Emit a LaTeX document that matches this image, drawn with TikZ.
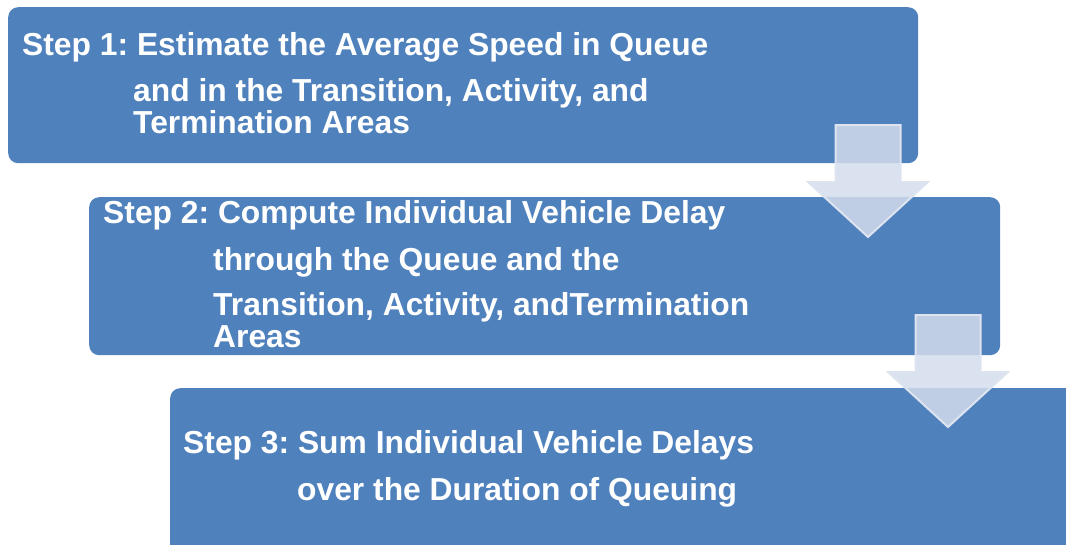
\documentclass[tikz,border=0pt]{standalone}
\usepackage{fontspec}
\setmainfont{Liberation Sans}
\definecolor{boxblue}{HTML}{4F81BD}
\definecolor{arrowfill}{HTML}{D3DCEC}
\definecolor{arrowedge}{HTML}{DDE4F0}
\frenchspacing
\begin{document}
\begin{tikzpicture}[x=1pt,y=-1pt,
  stepbox/.style={fill=boxblue, draw=none, rounded corners=10pt, anchor=north west, inner sep=0pt},
  steptext/.style={anchor=base west, inner sep=0pt, text=white, font=\fontsize{31.8}{36}\selectfont\bfseries},
  downarrow/.style={fill=arrowfill, fill opacity=0.85, draw=arrowedge, line width=2pt, line join=miter}]
\clip (0,0) rectangle (1066,544);
\path[use as bounding box] (0,0) rectangle (1066,544);
% boxes
\node[stepbox, minimum width=910pt, minimum height=156pt] (b1) at (8,7) {};
\node[stepbox, minimum width=911pt, minimum height=158pt] (b2) at (89,197) {};
\node[stepbox, minimum width=920pt, minimum height=170pt] (b3) at (170,388) {};
% texts
\node[steptext] (t11) at (22,55) {Step 1: Estimate the Average Speed in Queue};
\node[steptext] (t12) at (133,101) {and in the Transition, Activity, and};
\node[steptext] (t13) at (133,133) {Termination Areas};
\node[steptext] (t21) at (103,223) {Step 2: Compute Individual Vehicle Delay};
\node[steptext] (t22) at (213,270) {through the Queue and the};
\node[steptext] (t23) at (213,315) {Transition, Activity, andTermination};
\node[steptext] (t24) at (213,347) {Areas};
\node[steptext] (t31) at (183,453) {Step 3: Sum Individual Vehicle Delays};
\node[steptext] (t32) at (297,500) {over the Duration of Queuing};
% arrows
\coordinate (a1) at (868,125);
\coordinate (a2) at (948,315);
\foreach \a in {a1,a2}{
  \draw[downarrow] ([xshift=-32.5pt]\a) -- ([xshift=32.5pt]\a) -- ([xshift=32.5pt,yshift=-57pt]\a)
    -- ([xshift=60pt,yshift=-57pt]\a) -- ([yshift=-112pt]\a) -- ([xshift=-60pt,yshift=-57pt]\a)
    -- ([xshift=-32.5pt,yshift=-57pt]\a) -- cycle;
}
\end{tikzpicture}
\end{document}
